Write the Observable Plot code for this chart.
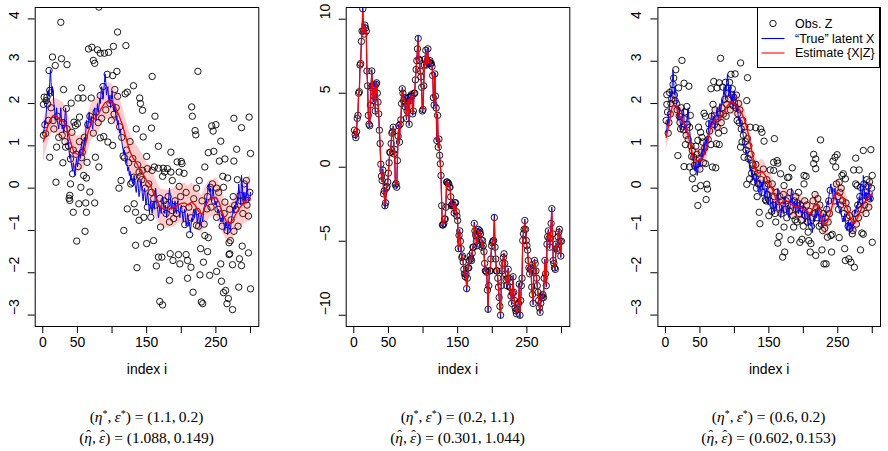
<!DOCTYPE html>
<html><head><meta charset="utf-8">
<script src="https://cdn.jsdelivr.net/npm/d3@7"></script>
<script src="https://cdn.jsdelivr.net/npm/@observablehq/plot@0.6"></script>
<style>
body{margin:0;background:#fff;}
#wrap{position:relative;width:888px;height:451px;overflow:hidden;background:#fff;font-family:"Liberation Sans",Arial,sans-serif;}
.panel{position:absolute;top:0;width:296px;height:390px;}
.formula{position:absolute;width:300px;text-align:center;font-family:"Liberation Serif","Times New Roman",serif;font-size:15.5px;line-height:20px;height:20px;color:#000;white-space:nowrap;}
.formula sup{font-size:10px;line-height:0;vertical-align:0.5em;}
.hat{position:relative;display:inline-block;line-height:1;}
.hat::after{content:"\02C6";position:absolute;left:50%;top:-0.1em;transform:translateX(-40%);font-style:normal;font-size:0.9em;line-height:1;}
#legend{position:absolute;left:757px;top:7px;width:123px;height:61px;border:1px solid #000;background:#fff;box-sizing:border-box;}
#legend text{font-family:"Liberation Sans",Arial,sans-serif;font-size:12.5px;}
</style></head>
<body><div id="wrap"></div>
<script>
// ---------- axis ticks ----------
const xTicks = [0, 50, 100, 150, 200, 250, 300];
const xTickLabels = ["0", "50", "", "150", "", "250", ""];
const yTicksA = [-3, -2, -1, 0, 1, 2, 3, 4];
const yTicksB = [-10, -5, 0, 5, 10];

// ---------- true latent X (panels 1 and 3 share it), index 1..300 ----------
const latentX13 = [
1.3,1.4,1.6,1.5,1.8,2.0,2.1,2.3,2.2,2.5,
2.8,2.5,2.2,2.4,2.3,2.0,1.9,1.6,1.7,1.9,
1.6,1.5,1.4,1.6,1.7,1.9,1.6,1.4,1.5,1.3,
1.5,1.7,1.9,1.6,1.4,1.2,1.1,0.9,0.7,0.8,
0.6,0.5,0.4,0.6,0.5,0.3,0.4,0.6,0.7,0.5,
0.6,0.8,0.9,0.7,0.9,1.1,0.9,0.8,1.0,1.2,
1.0,1.3,1.6,1.5,1.4,1.6,1.8,1.6,1.5,1.7,
1.5,1.4,1.6,1.8,1.9,1.7,1.6,1.8,2.0,1.8,
1.9,2.1,2.0,2.2,2.4,2.3,2.1,2.3,2.5,2.7,
2.5,2.2,2.3,2.4,2.1,2.0,2.2,1.9,2.1,2.3,
2.1,1.9,1.8,2.0,1.8,1.6,1.7,1.5,1.6,1.4,
1.3,1.4,1.2,1.1,1.0,0.9,0.8,0.9,0.7,0.6,
0.7,0.5,0.4,0.5,0.3,0.4,0.2,0.3,0.2,0.1,
0.2,0.3,0.1,0.0,-0.1,0.1,0.2,0.0,-0.2,-0.1,
0.1,0.2,0.0,-0.2,-0.3,-0.1,0.0,-0.2,-0.4,-0.3,
-0.1,-0.2,-0.4,-0.6,-0.4,-0.3,-0.5,-0.6,-0.4,-0.3,
-0.5,-0.3,0.0,-0.2,-0.4,-0.5,-0.7,-0.6,-0.4,-0.5,
-0.6,-0.4,-0.2,-0.3,-0.5,-0.6,-0.4,-0.5,-0.7,-0.5,
-0.4,-0.2,0.0,-0.2,-0.4,-0.5,-0.3,-0.4,-0.6,-0.4,
-0.3,-0.5,-0.6,-0.4,-0.3,-0.5,-0.6,-0.7,-0.5,-0.4,
-0.5,-0.7,-0.8,-0.6,-0.5,-0.7,-0.9,-0.8,-0.6,-0.7,
-0.9,-0.8,-1.05,-0.9,-0.7,-0.8,-0.6,-0.5,-0.7,-0.6,
-0.5,-0.6,-0.8,-0.7,-0.6,-0.8,-0.9,-0.7,-0.6,-0.7,
-0.8,-0.6,-0.5,-0.4,-0.3,-0.4,-0.2,-0.1,0.0,0.1,
-0.1,0.0,-0.2,-0.3,-0.1,0.0,-0.2,-0.3,-0.4,-0.3,
-0.4,-0.5,-0.6,-0.5,-0.6,-0.7,-0.8,-0.7,-0.8,-0.6,
-0.7,-0.9,-1.0,-0.8,-0.9,-0.8,-1.1,-0.9,-0.8,-0.9,
-1.0,-0.8,-0.7,-0.6,-0.5,-0.6,-0.4,-0.5,-0.3,-0.4,
-0.2,-0.3,0.1,-0.1,-0.2,-0.4,0.3,0.1,-0.2,-0.1,
-0.3,-0.1,-0.3,-0.2,0.1,-0.1,-0.3,-0.2,-0.3,-0.1];

// ---------- estimates for panels 1 and 3 on an index grid ----------
const estGrid = [1,5,10,15,20,25,30,35,40,45,50,55,60,65,70,75,80,85,90,95,100,105,110,115,120,125,130,135,140,145,150,155,160,165,170,175,180,185,190,195,200,205,210,215,220,225,230,235,240,245,250,255,260,265,270,275,280,285,290,295,300];
const est1 = [1.1,1.35,1.6,1.72,1.7,1.62,1.58,1.4,1.1,0.85,
0.8,0.82,0.9,1.3,1.55,1.65,1.75,1.9,2.02,2.07,
2.02,1.92,1.72,1.5,1.2,0.9,0.72,0.6,0.45,0.33,
0.18,0.08,-0.12,-0.3,-0.45,-0.5,-0.5,-0.48,-0.46,-0.4,
-0.36,-0.35,-0.4,-0.33,-0.4,-0.55,-0.62,-0.42,-0.28,-0.24,
-0.21,-0.35,-0.62,-0.78,-0.84,-0.74,-0.57,-0.45,-0.36,-0.28,
-0.24];
const half1 = [0.5,0.45,0.42,0.4,0.42,0.45,0.43,0.42,0.44,0.45,
0.43,0.42,0.44,0.46,0.43,0.42,0.44,0.42,0.41,0.43,
0.44,0.42,0.45,0.43,0.42,0.44,0.45,0.43,0.46,0.44,
0.42,0.45,0.47,0.44,0.43,0.46,0.45,0.43,0.47,0.44,
0.45,0.48,0.44,0.46,0.45,0.47,0.44,0.46,0.45,0.43,
0.46,0.48,0.45,0.44,0.47,0.45,0.46,0.48,0.5,0.52,
0.55];
const est3 = [1.2,1.5,1.95,1.95,1.72,1.6,1.44,1.1,0.73,0.65,
0.65,0.75,0.95,1.4,1.58,1.62,1.68,1.8,1.95,2.05,
2.0,1.91,1.8,1.6,1.3,0.89,0.45,0.35,0.4,0.3,
0.1,-0.02,-0.25,-0.37,-0.33,-0.29,-0.35,-0.41,-0.43,-0.45,
-0.5,-0.55,-0.6,-0.45,-0.37,-0.6,-0.88,-0.8,-0.55,-0.2,
-0.1,-0.17,-0.3,-0.55,-0.8,-0.82,-0.65,-0.45,-0.32,-0.2,
-0.13];
const half3 = [0.32,0.3,0.28,0.27,0.28,0.29,0.28,0.3,0.29,0.28,
0.3,0.29,0.28,0.27,0.29,0.28,0.3,0.28,0.27,0.29,
0.28,0.3,0.29,0.28,0.27,0.29,0.3,0.28,0.29,0.3,
0.28,0.29,0.31,0.29,0.28,0.3,0.29,0.28,0.3,0.29,
0.28,0.31,0.29,0.3,0.29,0.31,0.28,0.3,0.29,0.28,
0.3,0.31,0.29,0.28,0.3,0.29,0.3,0.31,0.32,0.33,
0.35];

// ---------- observations Z, [index, value] ----------
const obs1 = [
[26,3.92],[81,4.28],[108,3.69],[120,3.37],[66,3.29],[71,3.33],[79,3.27],[83,3.19],[89,3.19],[95,3.21],[102,3.35],[73,3.02],[75,2.95],[14,3.1],[27,3.06],[35,2.92],[18,2.9],[9,2.78],[93,2.69],[101,2.66],[107,2.76],[131,2.42],[30,2.33],[56,2.37],[70,2.13],[83,2.19],[104,2.33],[2,2.15],[6,2.15],[11,2.25],[5,2.07],[10,2.31],[51,2.13],[58,2.13],[108,2.17],[119,2.23],[122,2.27],[140,2.13],[141,2.0],[144,1.84],[34,1.88],[41,2.01],[1,1.98],[7,1.99],[45,1.56],[47,1.48],[53,1.68],[50,1.52],[135,1.4],[145,1.21],[1,1.25],[4,1.29],[35,1.4],[42,1.32],[28,1.25],[20,0.97],[33,0.97],[73,1.3],[83,1.19],[88,1.22],[94,1.09],[101,1.01],[116,0.76],[118,0.72],
[10,0.73],[29,0.6],[19,0.14],[40,0.69],[56,0.72],[64,0.61],[76,0.73],[81,0.5],[51,0.51],[59,0.3],[63,0.24],[43,0.34],[40,0.1],[55,0.02],[39,-0.17],[38,-0.24],[39,-0.29],[52,-0.37],[62,-0.35],[44,-0.57],[63,-0.57],[75,-0.35],[68,-0.09],[61,-1.02],[49,-1.25],[110,0.0],[113,0.18],[122,-0.49],[127,0.1],[132,-0.37],[134,-0.57],[139,-0.76],[146,-0.69],[134,-1.35],[136,-1.88],[117,-1.0],[129,0.14],[131,0.26],[139,0.38],[141,0.28],[144,0.42],
[3,1.5],[8,1.6],[12,1.9],[15,1.6],[16,1.4],[21,1.7],[23,1.2],[29,1.55],[32,1.1],[37,1.0],[44,0.9],[48,0.8],[53,1.1],[57,0.85],[60,1.2],[65,1.5],[68,1.7],[77,1.8],[80,1.55],[85,1.65],[87,2.4],[91,1.85],[97,2.0],[99,1.6],[103,1.75],[106,1.9],[111,1.45],[114,1.2],[121,0.9],[124,0.6],[126,1.1],[130,0.7],[137,0.55],[143,0.2],[148,0.0],
[158,2.64],[224,2.76],[215,1.92],[216,1.7],[162,1.7],[157,1.42],[220,1.36],[221,1.26],[244,1.47],[250,1.5],[246,1.35],[276,1.65],[298,1.68],[287,1.43],[257,1.11],[167,0.99],[185,0.85],[239,0.84],[247,0.87],[280,0.92],[300,0.82],[194,0.62],[200,0.63],[201,0.58],[255,0.64],[263,0.69],[276,0.64],[234,0.5],[150,0.75],[167,0.47],[174,0.47],[180,0.46],[176,0.38],[173,0.28],[197,0.38],[204,0.35],[260,0.28],[267,0.24],[281,0.2],[294,0.18],[187,0.18],[197,0.04],[226,0.18],[242,0.02],[251,0.0],[261,0.02],[160,-0.25],[169,-0.24],[181,-0.2],[285,-0.17],[293,-0.28],[151,-0.45],[156,-0.69],[179,-0.39],[187,-0.53],[189,-0.72],[222,0.0],[237,-0.49],[251,-0.69],[263,-0.33],[270,-0.5],[277,-0.41],[297,-0.66],[170,-0.92],[205,-0.86],[222,-0.88],[212,-1.1],[234,-1.12],[239,-1.17],[238,-1.5],[228,-1.43],[271,-1.24],[276,-1.02],[269,-1.29],[150,-1.31],[160,-1.24],[288,-1.37],[297,-1.53],[184,-1.55],[167,-1.63],[172,-1.63],[164,-1.84],[188,-1.71],[196,-1.57],[207,-1.57],[209,-1.71],[214,-1.87],[198,-1.79],[232,-1.75],[251,-1.97],[257,-1.79],[269,-1.57],[270,-1.55],[274,-1.81],[284,-1.67],[287,-1.83],[183,-2.18],[209,-2.13],[227,-2.05],[241,-2.06],[258,-2.2],[217,-2.46],[261,-2.47],[283,-2.34],[300,-2.38],[264,-2.42],[169,-2.68],[173,-2.76],[229,-2.69],[231,-2.73],[266,-2.73],[274,-2.87],[268,-2.61],
[151,0.46],[158,0.42],[161,0.5],[185,0.38],
[153,0.1],[157,-0.1],[163,-0.4],[175,-0.3],[178,-0.6],[183,-0.8],[191,-0.3],[193,-0.6],[199,-0.2],[203,-0.5],[207,-0.1],[211,-0.45],[214,-0.7],[218,-0.25],[223,-0.55],[225,-0.9],[230,-0.3],[233,-0.85],[238,-0.2],[243,-0.45],[245,0.1],[248,-0.3],[253,-0.5],[254,-0.1],[259,-0.9],[262,-0.6],[266,-1.0],[272,-0.75],[275,-0.2],[279,-0.5],[282,-0.9],[286,-0.3],[289,-0.6],[291,0.1],[295,-0.4],[299,-0.1]];

const obs3 = [
[24,3.02],[80,3.07],[109,2.96],[15,2.8],[70,2.52],[78,2.49],[87,2.5],[83,2.39],[66,2.35],[75,2.37],[95,2.69],[101,2.7],[119,2.61],[27,2.48],[34,2.41],[19,2.37],[10,2.31],[6,2.26],[2,2.21],[91,2.37],[92,2.11],[89,1.98],[100,2.03],[105,1.76],[118,2.07],[1,1.6],[2,1.98],[3,1.8],[9,2.11],[14,2.07],[31,1.93],[36,1.72],[27,1.64],[35,1.44],[22,1.4],[26,1.38],[56,1.77],[58,1.7],[69,1.98],[63,1.52],[75,1.44],[85,1.36],[48,1.44],[51,1.32],[53,1.2],[47,1.13],[123,1.44],[131,1.43],[138,1.4],[140,1.32],[143,1.11],[158,1.17],[225,1.14],[215,0.8],[218,0.69],[243,0.64],[249,0.79],[246,0.73],[276,0.71],[287,0.89],[298,0.91],[29,1.03],[39,0.89],[44,0.99],[41,0.73],[54,1.09],[66,1.03],[74,1.05],[78,1.03],[18,0.77],[35,0.5],[42,0.54],[27,0.51],[58,0.58],[109,0.97],[111,1.09],[119,1.17],[114,0.73],[126,0.59],[131,0.56],[157,0.61],[162,0.65],[184,0.48],[157,0.42],
[40,0.38],[39,0.22],[43,-0.01],[51,0.06],[60,0.09],[61,-0.02],[68,0.5],[73,0.48],[59,-0.27],[47,-0.41],[118,0.09],[122,0.22],[130,0.26],[133,-0.2],[137,-0.84],[136,-0.57],[145,-0.27],[150,-0.65],[152,0.43],[163,0.59],[167,0.34],[177,0.25],[179,0.26],[172,0.06],[160,-0.8],[165,-1.14],[163,-1.3],[170,-1.63],[173,-1.51],[172,-0.92],[182,-1.22],[186,-0.92],[195,-1.28],[198,-1.21],[201,0.3],[204,0.28],[207,-1.04],[208,-1.24],[211,-1.31],[201,0.1],[215,0.58],[218,0.46],[210,-1.51],[218,-1.59],[227,-1.46],[230,-1.79],[233,-1.79],[241,-1.51],[235,-1.16],[240,-1.12],[242,-1.09],[252,-1.17],[252,0.14],[247,0.5],[256,0.3],[258,0.34],[261,0.22],[273,0.43],[281,0.43],[276,0.1],[278,0.06],[283,0.02],[260,-1.43],[261,-1.71],[266,-1.67],[269,-1.75],[274,-1.87],[271,-1.08],[285,-1.06],[287,-1.09],[283,-1.46],[300,-1.28],[300,0.3],
[4,1.3],[5,1.55],[7,1.75],[8,2.0],[11,2.45],[12,2.6],[13,2.2],[16,2.0],[17,1.85],[20,1.7],[21,1.55],[23,1.9],[25,1.45],[28,1.8],[30,1.25],[32,1.5],[33,1.15],[37,1.0],[38,0.75],[45,0.55],[46,0.8],[49,0.7],[50,0.45],[52,0.85],[55,0.6],[57,0.95],[62,1.15],[64,1.35],[67,1.7],[71,1.5],[72,1.85],[76,1.65],[77,1.3],[79,1.75],[81,1.55],[82,1.9],[84,1.75],[86,2.1],[88,1.7],[90,2.25],[93,2.5],[94,1.85],[96,2.2],[97,2.35],[98,1.95],[99,2.15],[102,1.9],[103,2.2],[104,1.6],[106,2.0],[107,1.55],[108,1.85],[110,1.4],[112,1.6],[113,1.25],[115,1.45],[116,1.1],[117,0.9],[120,0.7],[121,1.0],[124,0.8],[125,0.35],[127,0.55],[128,0.15],[129,0.4],[132,0.0],[134,0.35],[135,0.1],[139,0.2],[141,-0.1],[142,0.45],[144,0.05],[146,-0.3],[147,0.2],[148,-0.15],[149,0.1],[151,-0.3],[153,-0.05],[154,-0.55],[155,0.1],[156,-0.4],[158,-0.2],[159,-0.6],[161,-0.1],[164,-0.45],[166,-0.2],[168,-0.6],[169,-0.3],[171,-0.15],[174,-0.5],[175,-0.3],[176,-0.7],[178,-0.25],[180,-0.55],[181,-0.1],[183,-0.4],[185,-0.65],[187,-0.3],[188,-0.75],[189,-0.2],[190,-0.5],[191,-0.8],[192,-0.35],[193,-0.1],[194,-0.6],[196,-0.4],[197,-0.75],[199,-0.5],[200,-0.9],[202,-0.3],[203,-0.65],[205,-0.4],[206,-0.8],[209,-0.55],[212,-0.9],[213,-0.7],[214,-0.3],[216,-0.6],[217,-0.15],[219,-0.45],[220,-0.7],[221,-0.25],[222,-0.55],[223,-0.9],[224,-0.4],[226,-0.85],[228,-1.0],[229,-0.6],[231,-0.95],[232,-0.7],[234,-0.5],[236,-0.8],[237,-0.3],[238,-0.6],[239,-0.05],[245,-0.3],[248,0.1],[250,-0.2],[251,-0.5],[253,-0.1],[254,-0.4],[255,0.0],[257,-0.3],[259,-0.6],[262,-0.35],[263,-0.7],[264,-0.5],[265,-0.9],[267,-0.65],[268,-0.95],[270,-0.8],[272,-1.0],[275,-0.6],[277,-0.85],[279,-0.4],[280,-0.7],[282,-0.2],[284,-0.5],[286,-0.3],[288,0.1],[289,-0.4],[290,-0.1],[291,-0.6],[292,0.2],[293,-0.2],[294,0.05],[295,-0.45],[296,0.15],[297,-0.25],[299,0.0]];

// ---------- panel 2: observations, estimate and latent X, index 1..300 ----------
const obs2 = [
2.5,2.2,2.0,2.4,3.3,3.5,5.0,5.1,6.9,7.0,
8.5,9.2,10.7,9.2,9.0,9.6,9.4,9.2,6.5,5.5,
3.5,2.9,2.8,4.2,5.4,6.5,5.5,4.5,4.8,5.5,
3.8,5.6,5.7,5.0,4.4,3.6,2.5,1.6,0.2,-0.6,
-0.9,-0.2,-1.8,-1.6,-2.6,-2.4,-1.4,-1.3,-1.0,-0.4,
0.3,1.0,1.0,1.6,2.3,2.4,2.7,0.9,1.2,-1.2,
-1.1,-1.35,0.45,2.1,2.8,1.7,2.9,3.2,4.3,5.3,
5.0,4.5,4.7,4.1,4.4,3.3,3.8,4.5,4.7,2.9,
4.5,4.8,4.9,4.8,3.6,3.8,5.0,5.0,5.9,6.6,
7.2,8.0,8.7,7.3,7.2,6.5,6.1,5.4,3.8,3.9,
5.5,6.9,7.3,7.9,6.9,7.2,8.0,7.0,7.1,7.2,
7.0,7.0,6.8,6.2,4.7,4.2,6.3,4.8,4.0,1.8,
3.5,1.35,1.9,0.8,0.23,-0.56,-2.6,-3.9,-3.9,-3.8,
-3.5,-3.5,-2.7,-1.0,-1.0,-1.1,-1.1,-1.35,-1.35,-2.0,
-2.6,-2.5,-2.6,-2.6,-3.1,-2.4,-2.4,-3.0,-3.3,-3.6,
-5.5,-4.6,-4.3,-5.0,-5.5,-6.1,-6.0,-6.4,-6.9,-7.2,
-7.4,-7.2,-8.2,-7.5,-6.8,-6.8,-6.3,-6.0,-6.2,-6.3,
-5.8,-5.4,-5.4,-3.8,-4.3,-4.6,-5.0,-5.3,-4.6,-4.2,
-4.4,-4.3,-4.5,-4.9,-5.4,-4.95,-5.3,-5.7,-6.5,-7.0,
-7.0,-7.1,-8.3,-9.6,-8.0,-7.0,-7.0,-6.2,-5.3,-5.1,
-5.0,-4.95,-3.4,-5.4,-6.2,-7.0,-7.0,-7.5,-8.1,-8.8,
-9.4,-10.0,-8.0,-7.0,-6.5,-6.1,-5.85,-6.5,-7.2,-7.6,
-8.0,-7.5,-6.9,-7.5,-8.1,-8.1,-8.7,-9.2,-8.5,-7.4,
-8.45,-9.0,-9.5,-9.7,-9.9,-9.6,-9.2,-9.2,-7.9,-10.0,
-9.0,-8.0,-7.5,-4.95,-4.5,-4.2,-3.6,-4.2,-4.95,-5.3,
-5.6,-6.3,-6.8,-7.2,-6.9,-6.8,-8.1,-8.6,-9.2,-7.0,
-6.3,-6.5,-7.0,-7.5,-8.0,-8.45,-9.0,-9.5,-9.8,-9.2,
-8.7,-8.8,-8.6,-8.8,-7.5,-6.3,-7.2,-8.0,-5.2,-4.7,
-4.3,-4.8,-5.4,-4.8,-3.8,-2.8,-4.5,-6.3,-6.5,-6.8,
-6.9,-5.2,-5.5,-5.6,-4.7,-4.4,-4.2,-5.0,-6.0,-5.0];
const est2 = [
2.45,2.25,2.05,2.45,3.25,3.55,4.95,5.15,6.8,7.05,
8.4,9.2,10.5,9.25,9.05,9.5,9.35,9.1,6.6,5.45,
3.6,2.95,2.9,4.15,5.35,6.4,5.5,4.6,4.8,5.4,
3.9,5.5,5.65,5.0,4.4,3.65,2.55,1.6,0.3,-0.55,
-0.85,-0.3,-1.75,-1.65,-2.5,-2.35,-1.45,-1.3,-0.95,-0.35,
0.3,0.95,1.05,1.6,2.25,2.4,2.6,0.95,1.1,-1.1,
-1.1,-1.25,0.5,2.05,2.7,1.75,2.85,3.2,4.25,5.2,
4.95,4.55,4.65,4.15,4.35,3.35,3.8,4.45,4.6,3.0,
4.45,4.75,4.85,4.75,3.7,3.85,4.95,5.0,5.85,6.6,
7.15,7.95,8.55,7.35,7.15,6.5,6.05,5.35,3.9,3.95,
5.45,6.85,7.25,7.8,6.95,7.2,7.9,7.05,7.1,7.15,
7.0,6.95,6.75,6.15,4.8,4.3,6.2,4.8,3.95,1.9,
3.4,1.4,1.85,0.8,0.2,-0.6,-2.55,-3.8,-3.85,-3.75,
-3.5,-3.45,-2.7,-1.05,-1.0,-1.1,-1.15,-1.35,-1.4,-2.0,
-2.55,-2.5,-2.6,-2.65,-3.05,-2.45,-2.45,-3.0,-3.3,-3.65,
-5.4,-4.6,-4.35,-5.0,-5.5,-6.05,-6.0,-6.4,-6.85,-7.2,
-7.35,-7.25,-8.05,-7.45,-6.8,-6.75,-6.3,-6.05,-6.2,-6.25,
-5.8,-5.45,-5.35,-3.9,-4.3,-4.6,-5.0,-5.25,-4.65,-4.25,
-4.4,-4.35,-4.5,-4.9,-5.35,-5.0,-5.3,-5.7,-6.45,-6.95,
-7.0,-7.15,-8.25,-9.45,-8.0,-7.05,-6.95,-6.2,-5.35,-5.1,
-5.0,-4.9,-3.5,-5.35,-6.15,-6.95,-7.05,-7.5,-8.05,-8.75,
-9.35,-9.85,-8.05,-7.0,-6.5,-6.15,-5.9,-6.5,-7.15,-7.6,
-7.95,-7.5,-6.95,-7.5,-8.05,-8.15,-8.65,-9.1,-8.45,-7.5,
-8.4,-9.0,-9.45,-9.65,-9.8,-9.6,-9.2,-9.1,-8.0,-9.85,
-9.0,-8.0,-7.4,-5.0,-4.5,-4.25,-3.7,-4.2,-4.9,-5.3,
-5.6,-6.25,-6.8,-7.15,-6.9,-6.85,-8.05,-8.55,-9.1,-7.05,
-6.35,-6.5,-7.0,-7.45,-7.95,-8.4,-8.95,-9.4,-9.7,-9.2,
-8.75,-8.8,-8.65,-8.75,-7.55,-6.4,-7.15,-7.9,-5.3,-4.75,
-4.35,-4.8,-5.35,-4.8,-3.9,-2.95,-4.5,-6.2,-6.5,-6.75,
-6.85,-5.25,-5.5,-5.55,-4.75,-4.45,-4.25,-5.0,-5.9,-5.05];
const latentX2 = [
2.4,2.1,1.9,2.5,3.4,3.5,5.1,5.0,7.0,7.1,
8.6,9.3,10.9,9.1,9.0,9.7,9.3,9.3,6.4,5.6,
3.4,2.8,2.7,4.3,5.5,6.6,5.4,4.4,4.9,5.6,
3.7,5.7,5.8,4.9,4.3,3.5,2.4,1.5,0.1,-0.7,
-1.0,-0.1,-1.9,-1.5,-2.8,-2.5,-1.3,-1.4,-1.1,-0.5,
0.4,1.1,0.9,1.7,2.4,2.3,2.8,0.8,1.3,-1.3,
-1.0,-1.45,0.4,2.2,2.9,1.6,3.0,3.1,4.4,5.4,
5.1,4.4,4.8,4.0,4.5,3.2,3.9,4.6,4.8,2.8,
4.6,4.9,5.0,4.7,3.5,3.7,5.1,4.9,6.0,6.7,
7.3,8.1,8.9,7.2,7.3,6.4,6.2,5.3,3.7,3.8,
5.6,7.0,7.4,8.0,6.8,7.3,8.1,6.9,7.2,7.3,
6.9,7.1,6.9,6.3,4.6,4.1,6.4,4.7,4.1,1.7,
3.6,1.3,2.0,0.7,0.3,-0.5,-2.7,-4.05,-3.95,-3.9,
-3.6,-3.5,-2.6,-0.9,-1.1,-1.0,-1.2,-1.3,-1.3,-2.1,
-2.7,-2.4,-2.7,-2.5,-3.2,-2.3,-2.5,-3.1,-3.2,-3.7,
-5.6,-4.5,-4.2,-5.1,-5.6,-6.2,-5.9,-6.5,-7.0,-7.3,
-7.5,-7.1,-8.4,-7.6,-6.7,-6.9,-6.2,-5.9,-6.3,-6.4,
-5.7,-5.3,-5.5,-3.7,-4.4,-4.5,-5.1,-5.4,-4.5,-4.1,
-4.5,-4.2,-4.6,-5.0,-5.5,-4.9,-5.4,-5.8,-6.6,-7.1,
-6.9,-7.2,-8.4,-9.8,-7.9,-6.9,-7.1,-6.1,-5.2,-5.2,
-4.9,-5.0,-3.2,-5.5,-6.3,-7.1,-6.9,-7.6,-8.2,-8.9,
-9.5,-10.2,-7.9,-6.9,-6.4,-6.0,-5.8,-6.6,-7.3,-7.7,
-8.1,-7.4,-6.8,-7.6,-8.2,-8.0,-8.8,-9.3,-8.4,-7.3,
-8.5,-9.1,-9.6,-9.8,-10.0,-9.5,-9.3,-9.3,-7.8,-10.2,
-9.1,-7.9,-7.6,-4.9,-4.4,-4.1,-3.5,-4.3,-5.0,-5.4,
-5.7,-6.4,-6.9,-7.3,-6.8,-6.7,-8.2,-8.7,-9.3,-6.9,
-6.2,-6.6,-7.1,-7.6,-8.1,-8.5,-9.1,-9.6,-9.9,-9.1,
-8.6,-8.9,-8.5,-8.9,-7.4,-6.2,-7.3,-8.1,-5.1,-4.6,
-4.2,-4.9,-5.5,-4.7,-3.7,-2.7,-4.6,-6.4,-6.6,-6.9,
-7.0,-5.1,-5.6,-5.7,-4.6,-4.3,-4.1,-5.1,-6.1,-4.9];
const half2 = [0.3];

// ---------- annotation texts ----------
const truthPairs = ["(1.1,&thinsp;0.2)", "(0.2,&thinsp;1.1)", "(0.6,&thinsp;0.2)"];
const fitPairs = ["(1.088,&thinsp;0.149)", "(0.301,&thinsp;1.044)", "(0.602,&thinsp;0.153)"];
const legendLabels = ["Obs. Z", "\u201CTrue\u201D latent X", "Estimate {X|Z}"];

// ---------- drawing ----------
const xDomain = [-10.96, 311.96];
const minus = v => String(v).replace("-", "\u2212");

function makePanel(o) {
  return Plot.plot({
    width: 296, height: 390,
    marginTop: 7, marginBottom: 64, marginLeft: o.ml, marginRight: o.mr,
    x: {domain: xDomain},
    y: {domain: o.yDomain},
    style: {fontFamily: '"Liberation Sans", Arial, sans-serif', fontSize: "14px", color: "#000", background: "transparent", overflow: "visible"},
    marks: [
      Plot.dot(o.obs, {x: "i", y: "z", r: 3.2, stroke: "#000", strokeWidth: 0.9, fill: "none", clip: true}),
      Plot.areaY(o.band, {x: "i", y1: "lo", y2: "hi", fill: "#ff0000", fillOpacity: 0.2, clip: true}),
      Plot.line(o.xs, {x: "i", y: "v", stroke: "#0000ff", strokeWidth: 1, clip: true}),
      Plot.line(o.est, {x: "i", y: "v", stroke: "#ff0000", strokeWidth: 1.3, clip: true}),
      Plot.frame({stroke: "#000", strokeWidth: 1}),
      Plot.axisX({ticks: xTicks, tickSize: 7, tickPadding: 4, label: null, fontSize: 14,
        tickFormat: d => xTickLabels[xTicks.indexOf(d)]}),
      Plot.axisY({ticks: o.yTicks, tickSize: 7, label: null, tickFormat: () => ""}),
      Plot.text(o.yTicks, {y: d => d, text: d => minus(d), frameAnchor: "left", dx: -21, rotate: -90, fontSize: 14}),
      Plot.text(["index i"], {text: d => d, frameAnchor: "bottom", dy: 47, fontSize: 14})
    ]
  });
}

const wrap = document.getElementById("wrap");
const toObs = arr => arr.map(([i, z]) => ({i, z}));
const seq = arr => arr.map((v, k) => ({i: k + 1, v}));
const gridBand = (est, half) => estGrid.map((g, k) => ({i: g, lo: est[k] - half[k], hi: est[k] + half[k]}));

const panels = [
  {left: 0, ml: 34.7, mr: 37.7, yDomain: [-3.27, 4.27], yTicks: yTicksA,
   obs: toObs(obs1), xs: seq(latentX13), est: estGrid.map((g, k) => ({i: g, v: est1[k]})), band: gridBand(est1, half1)},
  {left: 296, ml: 49.7, mr: 22.7, yDomain: [-10.76, 10.79], yTicks: yTicksB,
   obs: obs2.map((z, k) => ({i: k + 1, z})), xs: seq(latentX2), est: seq(est2),
   band: est2.map((v, k) => ({i: k + 1, lo: v - half2[0], hi: v + half2[0]}))},
  {left: 592, ml: 65.4, mr: 8, yDomain: [-3.27, 4.27], yTicks: yTicksA,
   obs: toObs(obs3), xs: seq(latentX13), est: estGrid.map((g, k) => ({i: g, v: est3[k]})), band: gridBand(est3, half3)}
];

const hat = s => `<span class="hat"><i>${s}</i></span>`;

panels.forEach((p, k) => {
  const div = document.createElement("div");
  div.className = "panel";
  div.style.left = p.left + "px";
  div.appendChild(makePanel(p));
  wrap.appendChild(div);
  const cx = p.left + p.ml + (296 - p.ml - p.mr) / 2;
  const f1 = document.createElement("div");
  f1.className = "formula";
  f1.style.left = (cx - 150) + "px";
  f1.style.top = "407px";
  f1.innerHTML = `(<i>\u03B7</i><sup>*</sup>,&thinsp;<i>\u03B5</i><sup>*</sup>) = ${truthPairs[k]}`;
  wrap.appendChild(f1);
  const f2 = document.createElement("div");
  f2.className = "formula";
  f2.style.left = (cx - 150) + "px";
  f2.style.top = "428px";
  f2.innerHTML = `(${hat("\u03B7")},&thinsp;${hat("\u03B5")}) = ${fitPairs[k]}`;
  wrap.appendChild(f2);
});

// legend (top-right of panel 3)
const leg = document.createElement("div");
leg.id = "legend";
leg.innerHTML = `<svg width="121" height="59">
  <circle cx="15" cy="15.5" r="3.2" fill="none" stroke="#000" stroke-width="0.9"/>
  <line x1="3.5" x2="26.5" y1="30.5" y2="30.5" stroke="#0000ff" stroke-width="1.1"/>
  <line x1="3.5" x2="26.5" y1="45" y2="45" stroke="#ff0000" stroke-width="1.1"/>
  <text x="37" y="15.5" dy="0.35em">${legendLabels[0]}</text>
  <text x="37" y="30.5" dy="0.35em">${legendLabels[1]}</text>
  <text x="37" y="45" dy="0.35em">${legendLabels[2]}</text></svg>`;
wrap.appendChild(leg);
</script>
</body></html>
